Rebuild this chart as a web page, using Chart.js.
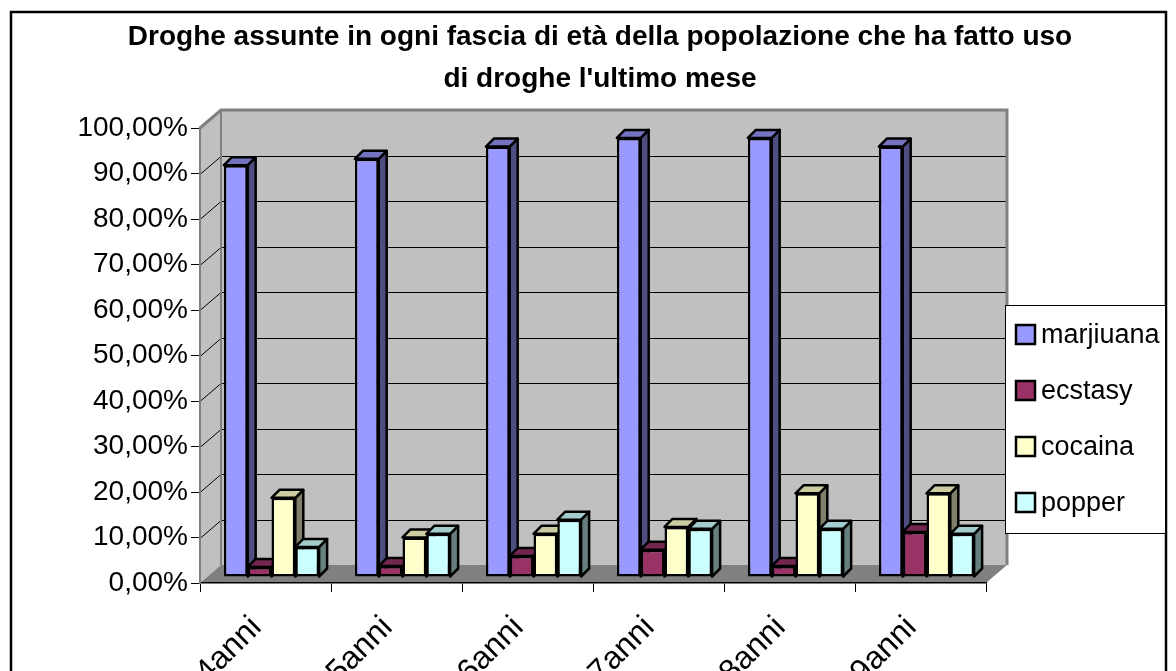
<!DOCTYPE html>
<html>
<head>
<meta charset="utf-8">
<script src="https://cdn.jsdelivr.net/npm/chart.js@4.4.0/dist/chart.umd.min.js"></script>
<style>
  html, body { margin: 0; padding: 0; background: #fff; overflow: hidden; }
  #wrap { width: 1176px; height: 671px; overflow: hidden; }
</style>
</head>
<body>
<div id="wrap"><canvas id="barChart" width="1176" height="760"></canvas></div>
<script>
var categories = ["14anni", "15anni", "16anni", "17anni", "18anni", "19anni"];
var marjiuana = [90.5, 91.9, 94.6, 96.5, 96.5, 94.6];
var ecstasy = [2.2, 2.4, 4.6, 6.0, 2.4, 9.9];
var cocaina = [17.4, 8.7, 9.5, 11.0, 18.4, 18.4];
var popper = [6.6, 9.5, 12.6, 10.6, 10.6, 9.5];
var yTickLabels = ["0,00%", "10,00%", "20,00%", "30,00%", "40,00%", "50,00%",
                   "60,00%", "70,00%", "80,00%", "90,00%", "100,00%"];
var titleLines = ["Droghe assunte in ogni fascia di età della popolazione che ha fatto uso",
                  "di droghe l'ultimo mese"];

var FONT = "'Liberation Sans', Arial, sans-serif";
var DX = 21, DY = -18;        // depth of the walls
var BD = 8;                   // depth of each bar
var SHIFT_X = 6, SHIFT_Y = -6; // bars sit a bit behind the front edge

function poly(ctx, pts, fill, stroke) {
    ctx.beginPath();
    ctx.moveTo(pts[0][0], pts[0][1]);
    for (var i = 1; i < pts.length; i++) ctx.lineTo(pts[i][0], pts[i][1]);
    ctx.closePath();
    ctx.fillStyle = fill;
    ctx.fill();
    if (stroke) ctx.stroke();
}

var excel3d = {
    id: "excel3d",
    beforeDraw: function(chart) {
        var ctx = chart.ctx, a = chart.chartArea, ys = chart.scales.y;
        ctx.save();
        ctx.fillStyle = "#fff";
        ctx.fillRect(0, 0, chart.width, chart.height);
        ctx.strokeStyle = "#000";
        ctx.lineWidth = 2.5;
        ctx.strokeRect(11, 12, 1155, 900);

        // back wall, left wall, floor
        ctx.fillStyle = "#c0c0c0";
        ctx.fillRect(a.left + DX, a.top + DY, a.right - a.left, a.bottom - a.top);
        poly(ctx, [[a.left, a.top], [a.left + DX, a.top + DY], [a.left + DX, a.bottom + DY], [a.left, a.bottom]], "#c0c0c0");
        poly(ctx, [[a.left, a.bottom], [a.left + DX, a.bottom + DY], [a.right + DX, a.bottom + DY], [a.right, a.bottom]], "#808080");

        // gridlines on the walls
        ctx.strokeStyle = "#000";
        ctx.lineWidth = 1;
        ys.ticks.forEach(function(t) {
            if (t.value <= 0 || t.value >= 100) return;
            var py = Math.round(ys.getPixelForValue(t.value)) + 0.5;
            ctx.beginPath();
            ctx.moveTo(a.left, py);
            ctx.lineTo(a.left + DX, py + DY);
            ctx.lineTo(a.right + DX, py + DY);
            ctx.stroke();
        });

        ctx.strokeStyle = "#808080";
        ctx.lineWidth = 3;
        ctx.beginPath();
        ctx.moveTo(a.left, a.top);
        ctx.lineTo(a.left + DX, a.top + DY);
        ctx.lineTo(a.right + DX, a.top + DY);
        ctx.lineTo(a.right + DX, a.bottom + DY);
        ctx.stroke();
        ctx.lineWidth = 2;
        ctx.beginPath();
        ctx.moveTo(a.left + DX, a.top + DY);
        ctx.lineTo(a.left + DX, a.bottom + DY);
        ctx.stroke();
        ctx.restore();
    },
    beforeDatasetsDraw: function(chart) {
        var ctx = chart.ctx;
        ctx.save();
        ctx.translate(SHIFT_X, SHIFT_Y);
        ctx.save();
        ctx.strokeStyle = "#000";
        ctx.lineWidth = 2.5;
        ctx.lineJoin = "round";
        chart.data.datasets.forEach(function(ds, d) {
            chart.getDatasetMeta(d).data.forEach(function(bar) {
                var p = bar.getProps(["x", "y", "base", "width"], true);
                var l = p.x - p.width / 2, r = p.x + p.width / 2;
                poly(ctx, [[r, p.y], [r + BD, p.y - BD], [r + BD, p.base - BD], [r, p.base]], ds.sideColor, true);
                poly(ctx, [[l, p.y], [r, p.y], [r + BD, p.y - BD], [l + BD, p.y - BD]], ds.topColor, true);
            });
        });
        ctx.restore();
    },
    afterDatasetsDraw: function(chart) {
        chart.ctx.restore();
    },
    afterDraw: function(chart) {
        var ctx = chart.ctx;
        ctx.save();
        ctx.fillStyle = "#fff";
        ctx.fillRect(1005, 305, 160, 228);
        ctx.strokeStyle = "#000";
        ctx.lineWidth = 1;
        ctx.strokeRect(1005.5, 305.5, 160, 228);
        ctx.font = "27px " + FONT;
        ctx.textBaseline = "middle";
        chart.data.datasets.forEach(function(ds, i) {
            var cy = 335 + i * 56;
            ctx.fillStyle = ds.backgroundColor;
            ctx.fillRect(1016, cy - 10, 19, 19);
            ctx.lineWidth = 2.5;
            ctx.strokeRect(1016, cy - 10, 19, 19);
            ctx.fillStyle = "#000";
            ctx.fillText(ds.label, 1041, cy + 1);
        });
        ctx.restore();
    }
};

document.addEventListener("DOMContentLoaded", function() {
    Chart.defaults.font.family = FONT;
    Chart.defaults.color = "#000";

    var ctx = document.getElementById("barChart").getContext("2d");
    new Chart(ctx, {
        type: "bar",
        data: {
            labels: categories,
            datasets: [
                { label: "marjiuana", data: marjiuana, backgroundColor: "#9999ff", sideColor: "#4d4d80", topColor: "#7373bf" },
                { label: "ecstasy", data: ecstasy, backgroundColor: "#993366", sideColor: "#4d1a33", topColor: "#732650" },
                { label: "cocaina", data: cocaina, backgroundColor: "#ffffcc", sideColor: "#80806a", topColor: "#cccca3" },
                { label: "popper", data: popper, backgroundColor: "#ccffff", sideColor: "#668080", topColor: "#a3cccc" }
            ]
        },
        options: {
            responsive: false,
            animation: false,
            devicePixelRatio: 1,
            layout: { padding: { top: 0, left: 24, right: 0, bottom: 0 } },
            datasets: {
                bar: {
                    borderColor: "#000",
                    borderWidth: 2.5,
                    borderSkipped: false,
                    categoryPercentage: 0.727,
                    barPercentage: 1
                }
            },
            plugins: {
                legend: { display: false },
                tooltip: { enabled: false },
                title: {
                    display: true,
                    text: titleLines,
                    color: "#000",
                    font: { size: 28, weight: "bold", lineHeight: 1.5 },
                    padding: { top: 16.5, bottom: 27.5 }
                }
            },
            scales: {
                x: {
                    afterFit: function(s) { s.height = 177; },
                    grid: { drawOnChartArea: false, drawTicks: true, tickLength: 9, color: "#000", offset: true },
                    border: { display: true, color: "#000", width: 1.5 },
                    ticks: { font: { size: 32 }, color: "#000", minRotation: 45, maxRotation: 45, autoSkip: false, padding: 17, labelOffset: -9 }
                },
                y: {
                    min: 0,
                    max: 100,
                    afterFit: function(s) { s.width = 176; },
                    grid: { drawOnChartArea: false, drawTicks: true, tickLength: 9, color: "#000" },
                    border: { display: true, color: "#808080", width: 2 },
                    ticks: {
                        stepSize: 10,
                        autoSkip: false,
                        padding: 3,
                        font: { size: 28 },
                        color: "#000",
                        callback: function(v, i) { return yTickLabels[i]; }
                    }
                },
                // empty axis that keeps room on the right for the legend box
                legendRoom: {
                    position: "right",
                    display: true,
                    grid: { display: false },
                    border: { display: false },
                    ticks: { display: false },
                    afterFit: function(s) { s.width = 190; }
                }
            }
        },
        plugins: [excel3d]
    });
});
</script>
</body>
</html>
